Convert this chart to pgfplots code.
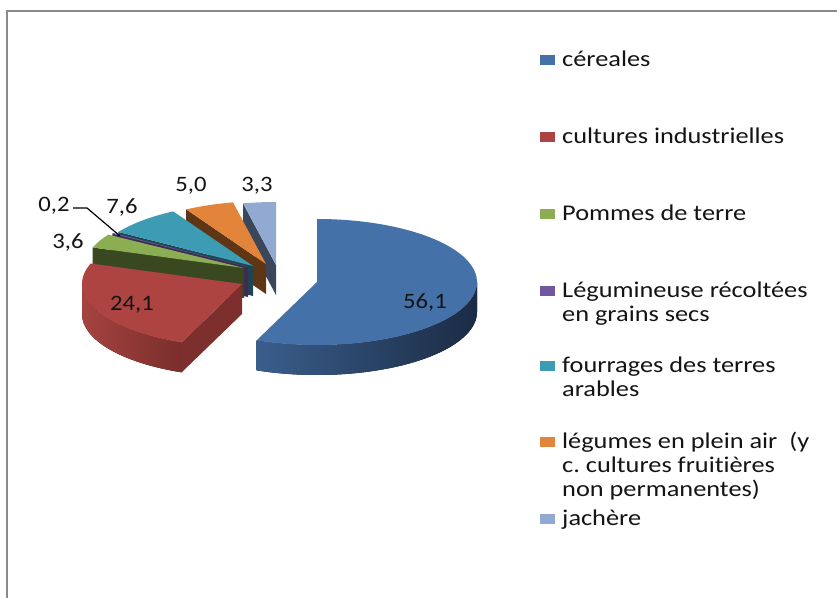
\documentclass[border=0pt]{standalone}
\usepackage{pgfplots}
\pgfplotsset{compat=1.18}
\usepackage{pgfplotstable}
\usepackage{fontspec}
\setmainfont{Carlito}[FakeStretch=1.12,Ligatures=NoCommon]
\newfontfamily\legfont{Carlito}[FakeStretch=1.17,Ligatures=NoCommon]
\usetikzlibrary{calc}
\frenchspacing

\definecolor{cBlue}{HTML}{4571A9}
\definecolor{cRed}{HTML}{AD4441}
\definecolor{cGreen}{HTML}{8CAE52}
\definecolor{cPurple}{HTML}{7257A0}
\definecolor{cTeal}{HTML}{3E9BB4}
\definecolor{cOrange}{HTML}{E2843A}
\definecolor{cLav}{HTML}{92A9D2}
\definecolor{sBlue}{HTML}{2C4A72}
\definecolor{sRed}{HTML}{7C2F2D}
\definecolor{sGreen}{HTML}{3A4820}
\definecolor{sPurple}{HTML}{3E2A55}
\definecolor{sTeal}{HTML}{1C4652}
\definecolor{sOrange}{HTML}{5E3615}
\definecolor{sLav}{HTML}{3A465A}
\definecolor{wBlueL}{HTML}{3A5E8C}
\definecolor{wBlueR}{HTML}{1B2B44}
\definecolor{wRedL}{HTML}{A5433F}
\definecolor{wRedR}{HTML}{7A2E2C}
\definecolor{frame}{HTML}{8A8A8A}
\definecolor{txt}{HTML}{141414}

% value, slice position (exploded vertex, px), label position, colours
\pgfplotstableread{
val  vx  vy  lx  ly  top     side    wl      wr
56.1 317 282 425 302 cBlue   sBlue   wBlueL  wBlueR
24.1 242 284 132 305 cRed    sRed    wRedL   wRedR
3.6  244 268 68  242 cGreen  sGreen  sGreen  sGreen
0.2  248 267 54  206 cPurple sPurple sPurple sPurple
7.6  253 266 122 207 cTeal   sTeal   sTeal   sTeal
5.0  266 264 191 186 cOrange sOrange sOrange sOrange
3.3  276 265 257 186 cLav    sLav    sLav    sLav
}\piedata

\newcommand\dep{30pt}
\newcommand\lblfont{\fontsize{22}{24}\selectfont}

\begin{document}
\begin{tikzpicture}
\path[use as bounding box] (0,0) rectangle (837pt,597pt);
\begin{axis}[at={(0,0)}, anchor=south west, scale only axis,
  width=837pt, height=597pt, xmin=0, xmax=837, ymin=0, ymax=597,
  y dir=reverse, axis lines=none, clip=false]
\draw[frame, line width=1.4pt] (axis cs:7,640) -- (axis cs:7,11) -- (axis cs:900,11);
\pgfplotsextra{%
  \pgfplotstablegetrowsof{\piedata}%
  \pgfmathtruncatemacro{\pieN}{\pgfplotsretval-1}%
  \gdef\pieTot{0}%
  \foreach \i in {0,...,\pieN}{%
    \pgfplotstablegetelem{\i}{val}\of\piedata
    \pgfmathsetmacro\tmp{\pieTot+\pgfplotsretval}%
    \xdef\pieTot{\tmp}}%
  \gdef\pieCum{0}%
  \foreach \i in {0,...,\pieN}{%
    \pgfplotstablegetelem{\i}{val}\of\piedata
    \let\v\pgfplotsretval
    \pgfmathsetmacro\tB{90-\pieCum/\pieTot*360}%
    \pgfmathsetmacro\tA{\tB-\v/\pieTot*360}%
    \pgfmathsetmacro\sh{\tA<0 ? 360 : 0}%
    \pgfmathsetmacro\tA{\tA+\sh}%
    \pgfmathsetmacro\tB{\tB+\sh}%
    \expandafter\xdef\csname pieA\i\endcsname{\tA}%
    \expandafter\xdef\csname pieB\i\endcsname{\tB}%
    \pgfmathsetmacro\tmp{\pieCum+\v}%
    \xdef\pieCum{\tmp}}%
  \foreach \i in {\pieN,...,0}{%
    \pgfplotstablegetelem{\i}{val}\of\piedata \let\v\pgfplotsretval
    \pgfplotstablegetelem{\i}{vx}\of\piedata \let\vx\pgfplotsretval
    \pgfplotstablegetelem{\i}{vy}\of\piedata \let\vy\pgfplotsretval
    \pgfplotstablegetelem{\i}{lx}\of\piedata \let\lx\pgfplotsretval
    \pgfplotstablegetelem{\i}{ly}\of\piedata \let\ly\pgfplotsretval
    \pgfplotstablegetelem{\i}{top}\of\piedata \let\ctop\pgfplotsretval
    \pgfplotstablegetelem{\i}{side}\of\piedata \let\cside\pgfplotsretval
    \pgfplotstablegetelem{\i}{wl}\of\piedata \let\cwl\pgfplotsretval
    \pgfplotstablegetelem{\i}{wr}\of\piedata \let\cwr\pgfplotsretval
    \edef\tA{\csname pieA\i\endcsname}%
    \edef\tB{\csname pieB\i\endcsname}%
    \coordinate (V) at (axis cs:\vx,\vy);
    \pgfmathtruncatemacro\visB{cos(\tB)<0}%
    \ifnum\visB=1
      \fill[\cside] (V) -- ($(V)+(\tB:160pt and 63pt)$) -- ++(0,-\dep) -- ($(V)+(0,-\dep)$) -- cycle;
    \fi
    \pgfmathtruncatemacro\visA{cos(\tA)>0}%
    \ifnum\visA=1
      \fill[\cside] (V) -- ($(V)+(\tA:160pt and 63pt)$) -- ++(0,-\dep) -- ($(V)+(0,-\dep)$) -- cycle;
    \fi
    \pgfmathsetmacro\lo{max(\tA,180)}%
    \pgfmathsetmacro\hi{min(\tB,360)}%
    \pgfmathtruncatemacro\visO{\hi>\lo}%
    \ifnum\visO=1
      \fill[left color=\cwl, right color=\cwr] ($(V)+(\lo:160pt and 63pt)$)
        arc[start angle=\lo, end angle=\hi, x radius=160pt, y radius=63pt]
        -- ++(0,-\dep)
        arc[start angle=\hi, end angle=\lo, x radius=160pt, y radius=63pt] -- cycle;
    \fi
    \fill[\ctop] (V) -- ($(V)+(\tA:160pt and 63pt)$)
      arc[start angle=\tA, end angle=\tB, x radius=160pt, y radius=63pt] -- cycle;
    \node[font=\lblfont, text=txt, inner sep=0pt] at (axis cs:\lx,\ly)
      {\pgfmathprintnumber[fixed,fixed zerofill,precision=1,use comma,assume math mode=true]{\v}};
  }%
}
% leader line of the 0,2 label
\draw[black, line width=1.2pt] (axis cs:73,208) -- (axis cs:87,208) -- (axis cs:120,236);
% legend
\def\sq#1#2{\fill[#1] (axis cs:540,#2-1) rectangle (axis cs:555,#2-11.5);}
\sq{cBlue}{66}\sq{cRed}{143}\sq{cGreen}{220}\sq{cPurple}{297}
\sq{cTeal}{372}\sq{cOrange}{448}\sq{cLav}{525}
\def\lg#1{\begin{tabular}[t]{@{}l@{}}#1\end{tabular}}
\begin{scope}[every node/.style={anchor=base west, inner sep=0pt,
   text=txt, font=\legfont\fontsize{22.5}{24}\selectfont}]
\node at (axis cs:562,66) {\lg{céreales}};
\node at (axis cs:562,143) {\lg{cultures industrielles}};
\node at (axis cs:562,220) {\lg{Pommes de terre}};
\node at (axis cs:562,297) {\lg{Légumineuse récoltées\\en grains secs}};
\node at (axis cs:562,372) {\lg{fourrages des terres\\arables}};
\node at (axis cs:562,448) {\lg{légumes en plein air\ \ (y\\c. cultures fruitières\\non permanentes)}};
\node at (axis cs:562,525) {\lg{jachère}};
\end{scope}
\end{axis}
\end{tikzpicture}
\end{document}
